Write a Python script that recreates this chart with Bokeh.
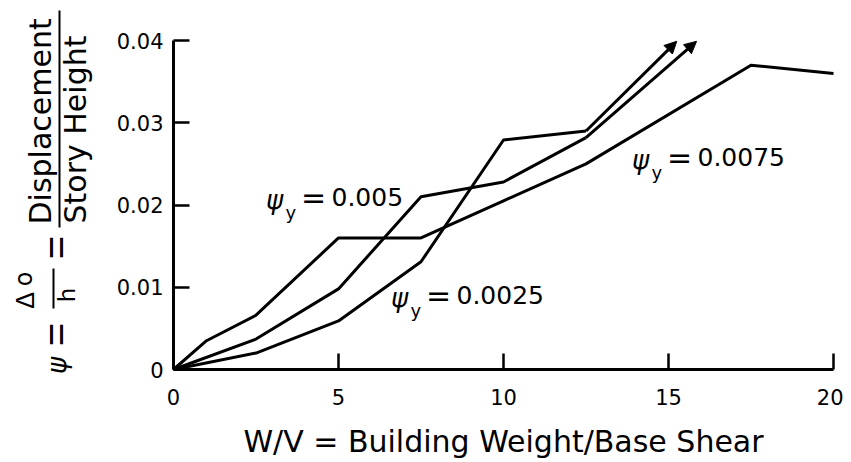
import math
from bokeh.plotting import figure
from bokeh.models import (Arrow, NormalHead, FixedTicker,
                          CustomJSTickFormatter, Range1d)
from bokeh.core.properties import value
from bokeh.embed import file_html
from bokeh.resources import INLINE

# ---------------- data ----------------
x_ticks = [0, 5, 10, 15, 20]
x_tick_labels = ["0", "5", "10", "15", "20"]
y_ticks = [0, 0.01, 0.02, 0.03, 0.04]
y_tick_labels = ["0", "0.01", "0.02", "0.03", "0.04"]

# curve ending at W/V = 20
wv_a = [0, 1, 2.5, 5, 7.5, 10, 12.5, 17.5, 20]
psi_a = [0, 0.0035, 0.0066, 0.016, 0.016, 0.0205, 0.025, 0.037, 0.036]

# middle curve (arrow at end)
wv_b = [0, 2.5, 5, 7.5, 10, 12.5]
psi_b = [0, 0.0037, 0.0098, 0.021, 0.0228, 0.0282]
wv_b_arrow = 15.85
psi_b_arrow = 0.0399

# steep curve (arrow at end)
wv_c = [0, 2.5, 5, 7.5, 10, 12.5]
psi_c = [0, 0.0020, 0.0059, 0.0131, 0.0279, 0.0290]
wv_c_arrow = 15.25
psi_c_arrow = 0.0399

curve_labels = ["0.005", "0.0025", "0.0075"]
x_title = "W/V = Building Weight/Base Shear"

# ---------------- layout ----------------
LIB = "Liberation Sans"
DJV = "DejaVu Sans"
W, H = 843, 462
# the frame covers the whole canvas; the axes are pinned with fixed_location
X0, XPX = 173.0, 33.0      # page px of W/V = 0, px per unit
Y0, YPX = 369.0, 8225.0    # page px of psi = 0, px per unit
def dx(px):
    return (px - X0) / XPX
def dy(py):
    return (Y0 - py) / YPX

p = figure(width=W, height=H,
           x_range=Range1d(dx(0), dx(W)), y_range=Range1d(dy(H), dy(0)),
           output_backend="svg", toolbar_location=None,
           min_border_left=0, min_border_right=0,
           min_border_top=0, min_border_bottom=0)
p.outline_line_color = None
p.xgrid.visible = False
p.ygrid.visible = False
p.background_fill_color = "white"
p.border_fill_color = "white"

p.xaxis.fixed_location = 0
p.yaxis.fixed_location = 0
p.xaxis.bounds = (x_ticks[0], x_ticks[-1])
p.yaxis.bounds = (y_ticks[0], y_ticks[-1])

for ax, ticks, labels, standoff in ((p.xaxis, x_ticks, x_tick_labels, 19),
                                     (p.yaxis, y_ticks, y_tick_labels, 10)):
    ax.ticker = FixedTicker(ticks=ticks)
    ax.formatter = CustomJSTickFormatter(args=dict(t=ticks, l=labels), code="""
        for (let i = 0; i < t.length; i++) { if (Math.abs(t[i] - tick) < 1e-9) return l[i]; }
        return "";
    """)
    ax.major_tick_in = 16
    ax.major_tick_out = 0
    ax.minor_tick_line_color = None
    ax.major_tick_line_width = 2.5
    ax.major_tick_line_color = "black"
    ax.axis_line_width = 3
    ax.axis_line_color = "black"
    ax.major_label_text_font = DJV
    ax.major_label_text_font_size = "21px"
    ax.major_label_text_color = "black"
    ax.major_label_standoff = standoff

p.xaxis.axis_label = x_title
p.xaxis.axis_label_text_font = DJV
p.xaxis.axis_label_text_font_size = "30px"
p.xaxis.axis_label_text_font_style = "normal"
p.xaxis.axis_label_text_color = "black"
p.xaxis.axis_label_standoff = 16

# curves
for xs, ys in ((wv_a, psi_a), (wv_b, psi_b), (wv_c, psi_c)):
    p.line(xs, ys, line_color="black", line_width=3, line_join="round")

for xs, ys, xe, ye in ((wv_b, psi_b, wv_b_arrow, psi_b_arrow),
                       (wv_c, psi_c, wv_c_arrow, psi_c_arrow)):
    p.add_layout(Arrow(x_start=xs[-1], y_start=ys[-1], x_end=xe, y_end=ye,
                       line_width=3, line_color="black",
                       end=NormalHead(size=12, fill_color="black",
                                      line_color="black", line_width=1)))

def txt(px, py, text, size, font=DJV, style="normal", align="left",
        base="middle", angle=0.0):
    p.text(x=[dx(px)], y=[dy(py)], text=[text], angle=angle, text_color="black",
           text_font=value(font), text_font_style=style,
           text_font_size=value(size), text_align=align, text_baseline=base)

# curve labels: (left px of psi, baseline px)
label_pos = [(267, 205), (392, 303), (633, 165)]
for (lx, ly), lab in zip(label_pos, curve_labels):
    txt(lx + 7, ly - 6, "ψ", "26px", style="italic", align="center")
    txt(lx + 18, ly + 6.6, "y", "18px")
    txt(lx + 46, ly - 8, "=", "30px", align="center")
    txt(lx + 64, ly - 8.7, lab, "25px")

# ---------------- y-axis title (rotated pieces) ----------------
rot = math.pi / 2
txt(56, 365, "ψ", "26px", style="italic", align="center", angle=rot)
txt(55, 334, "=", "40px", font=LIB, align="center", angle=rot)
txt(24, 300, "Δ", "25px", font=LIB, align="center", angle=rot)
txt(23.5, 278.5, "o", "24px", align="center", angle=rot)
txt(66.5, 294.5, "h", "23px", align="center", angle=rot)
txt(55, 247, "=", "40px", font=LIB, align="center", angle=rot)
txt(39.6, 224, "Displacement", "30px", angle=rot)
txt(74.6, 223, "Story Height", "30px", angle=rot)

bar_x = [53, 59]
bar_y0 = [268, 10]
bar_y1 = [308, 227]
p.segment(x0=[dx(v) for v in bar_x], y0=[dy(v) for v in bar_y0],
          x1=[dx(v) for v in bar_x], y1=[dy(v) for v in bar_y1],
          line_color="black", line_width=2)

open("out.html", "w").write(file_html(p, INLINE))
